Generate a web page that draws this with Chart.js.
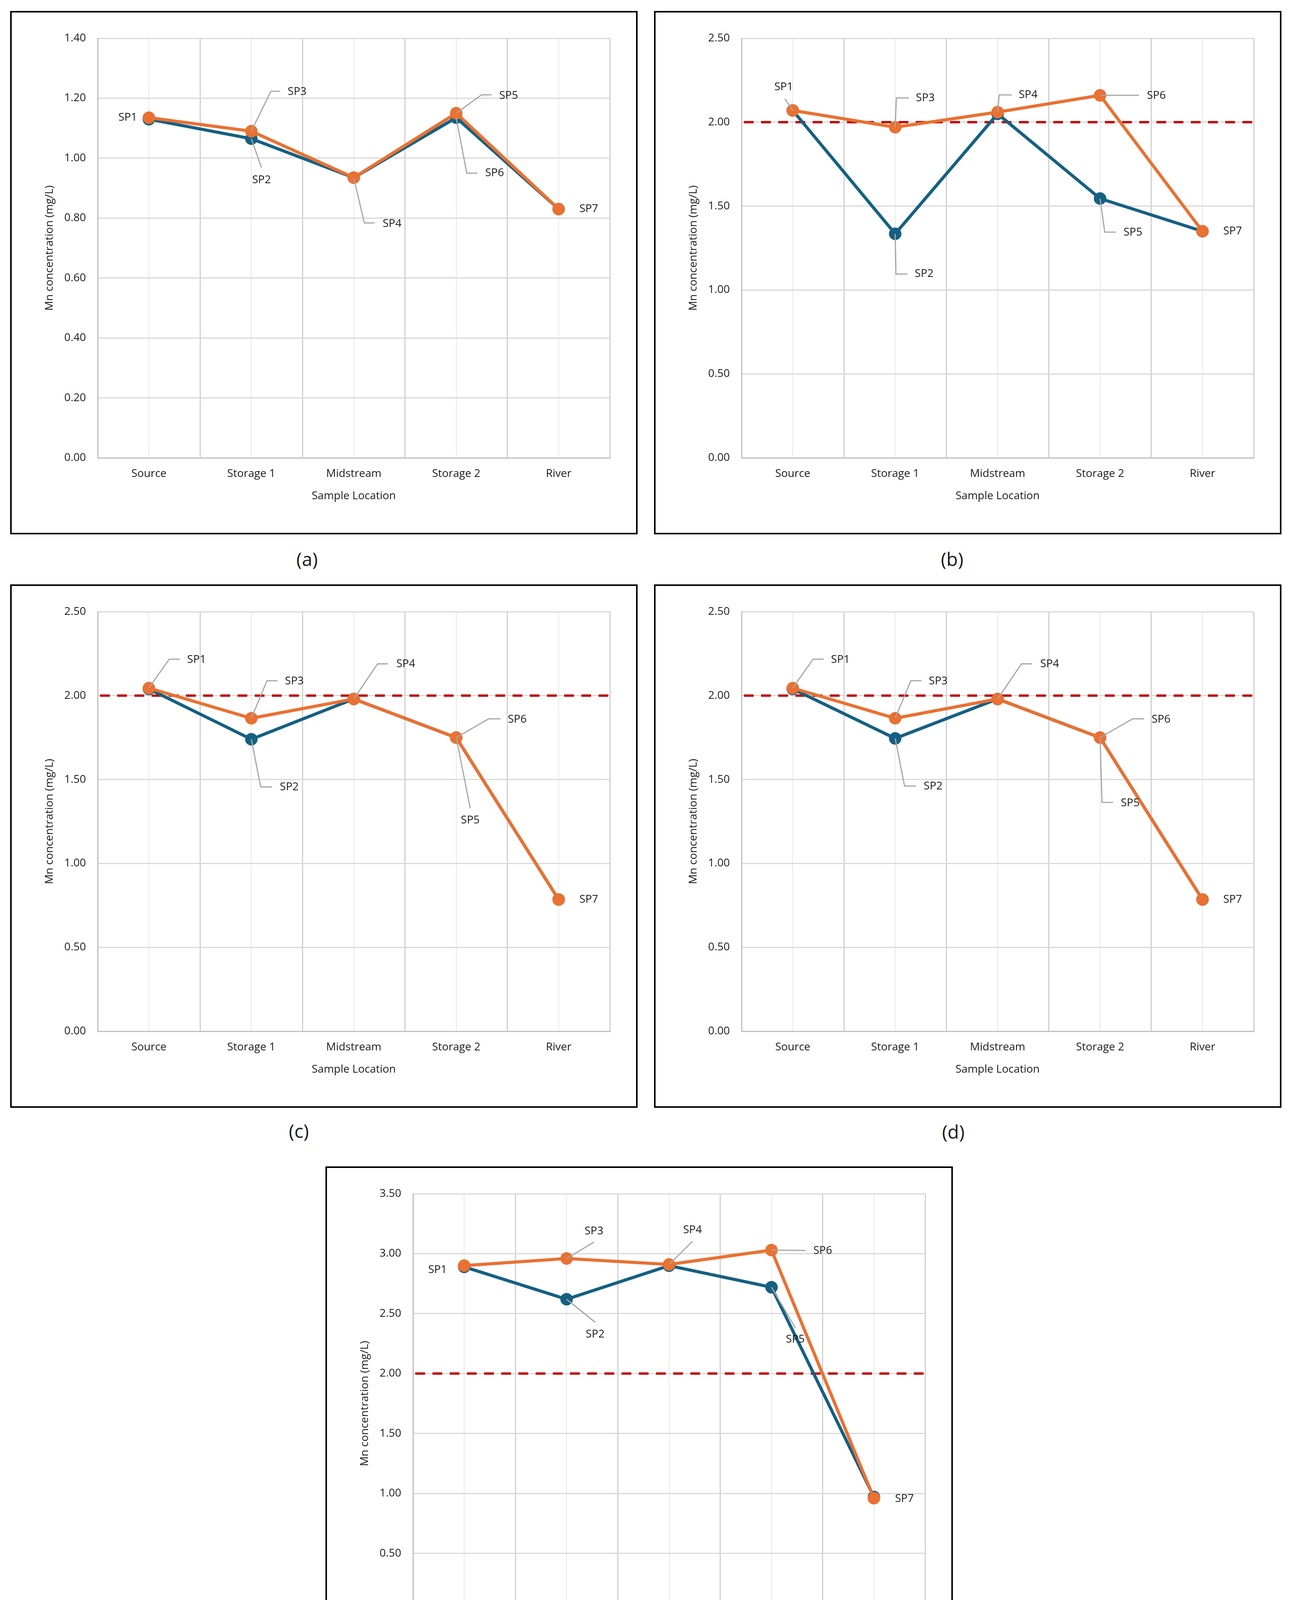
<!DOCTYPE html>
<html lang="en">
<head>
<meta charset="UTF-8">
<title>Mn concentration by sample location</title>
<style>
  body { margin: 0; background: #fff; width: 3307px; height: 4686px; position: relative; font-family: "Open Sans", sans-serif; color: #1a1a1a; }
  .panel { position: absolute; width: 1606px; height: 1340px; border: 4px solid #000; box-sizing: border-box; background: #fff; }
  .panel canvas { display: block; }
  .cap { position: absolute; font-size: 48px; line-height: 1; transform: translate(-50%, -50%); }
  .leg { position: absolute; line-height: 1; transform: translateY(-50%); }
  .key { position: absolute; height: 8px; width: 128px; border-radius: 4px; transform: translateY(-50%); }
  .key::after { content: ""; position: absolute; left: 48px; top: -12px; width: 32px; height: 32px; border-radius: 50%; background: inherit; }
  .dash { position: absolute; width: 151px; height: 7px; transform: translateY(-50%);
          background: repeating-linear-gradient(to right, #C00000 0 26px, transparent 26px 43px); }
</style>
</head>
<body>
  <div class="panel" style="left:26px; top:28px;"><canvas id="chartA" width="1598" height="1332"></canvas></div>
  <div class="panel" style="left:1674px; top:28px;"><canvas id="chartB" width="1598" height="1332"></canvas></div>
  <div class="panel" style="left:26px; top:1496px;"><canvas id="chartC" width="1598" height="1332"></canvas></div>
  <div class="panel" style="left:1674px; top:1496px;"><canvas id="chartD" width="1598" height="1332"></canvas></div>
  <div class="panel" style="left:833px; top:2986px;"><canvas id="chartE" width="1598" height="1332"></canvas></div>

  <div class="cap" style="left:786px; top:1431px;">(a)</div>
  <div class="cap" style="left:2437px; top:1431px;">(b)</div>
  <div class="cap" style="left:765px; top:2895px;">(c)</div>
  <div class="cap" style="left:2440px; top:2897px;">(d)</div>
  <div class="cap" style="left:1592px; top:4390px;">(e)</div>

  <div class="key" style="left:1110px; top:4522px; background:#156082;"></div>
  <div class="leg" style="left:1300px; top:4522px; font-size:52px;">CMPB Stream</div>
  <div class="key" style="left:1705px; top:4522px; background:#E97132;"></div>
  <div class="leg" style="left:1868px; top:4522px; font-size:52px;">LLB Stream</div>
  <div class="dash" style="left:1497px; top:4645px;"></div>
  <div class="leg" style="left:1676px; top:4645px; font-size:46px;">Effluent Standard</div>

  <script src="https://cdn.jsdelivr.net/npm/chart.js@4.4.1/dist/chart.umd.min.js"></script>
  <script>
    // values (mg/L)
    const locations = ['Source', 'Storage 1', 'Midstream', 'Storage 2', 'River'];
    const spNames = ['SP1', 'SP2', 'SP3', 'SP4', 'SP5', 'SP6', 'SP7'];

    const cmpbA = [1.13, 1.065, 0.935, 1.135, 0.83];
    const llbA  = [1.135, 1.09, 0.935, 1.15, 0.83];
    const cmpbB = [2.07, 1.335, 2.05, 1.545, 1.35];
    const llbB  = [2.07, 1.97, 2.06, 2.16, 1.35];
    const cmpbC = [2.04, 1.74, 1.98, 1.75, 0.785];
    const llbC  = [2.045, 1.865, 1.98, 1.75, 0.785];
    const cmpbD = [2.04, 1.745, 1.98, 1.75, 0.785];
    const llbD  = [2.045, 1.865, 1.98, 1.75, 0.785];
    const cmpbE = [2.89, 2.62, 2.90, 2.72, 0.97];
    const llbE  = [2.90, 2.96, 2.91, 3.03, 0.96];

    const effluentStandard = 2.0;

    const BLUE = '#156082', ORANGE = '#E97132', RED = '#C00000';
    const TXT = '#1a1a1a', FONT = '"Open Sans", sans-serif';

    // data label placement (px offsets from the point), ds 0 = CMPB, 1 = LLB
    const labelsA = [
      {sp: 0, ds: 1, i: 0, dx: -30, dy: 0, align: 'right'},
      {sp: 1, ds: 0, i: 1, dx: 26, dy: 106, align: 'center', lead: [[26, 74]]},
      {sp: 2, ds: 1, i: 1, dx: 93, dy: -101, lead: [[50, -102], [74, -102]]},
      {sp: 3, ds: 1, i: 2, dx: 74, dy: 118, lead: [[27, 116], [53, 116]]},
      {sp: 4, ds: 1, i: 3, dx: 110, dy: -45, lead: [[65, -47], [91, -47]]},
      {sp: 5, ds: 0, i: 3, dx: 74, dy: 142, lead: [[27, 142], [54, 142]]},
      {sp: 6, ds: 1, i: 4, dx: 53, dy: 0}
    ];
    const labelsB = [
      {sp: 0, ds: 1, i: 0, dx: -23, dy: -60, align: 'center', lead: [[-20, -30]]},
      {sp: 1, ds: 0, i: 1, dx: 50, dy: 103, lead: [[2, 103], [31, 103]]},
      {sp: 2, ds: 1, i: 1, dx: 53, dy: -75, lead: [[3, -75], [35, -75]]},
      {sp: 3, ds: 1, i: 2, dx: 54, dy: -44, lead: [[4, -44], [36, -44]]},
      {sp: 4, ds: 0, i: 3, dx: 60, dy: 87, lead: [[12, 86], [40, 86]]},
      {sp: 5, ds: 1, i: 3, dx: 120, dy: 1, lead: [[100, 0]]},
      {sp: 6, ds: 1, i: 4, dx: 53, dy: 0}
    ];
    const labelsC = [
      {sp: 0, ds: 1, i: 0, dx: 98, dy: -72, lead: [[52, -74], [79, -74]]},
      {sp: 1, ds: 0, i: 1, dx: 73, dy: 123, lead: [[24, 122], [53, 122]]},
      {sp: 2, ds: 1, i: 1, dx: 86, dy: -95, lead: [[40, -96], [67, -96]]},
      {sp: 3, ds: 1, i: 2, dx: 109, dy: -89, lead: [[61, -90], [88, -90]]},
      {sp: 4, ds: 0, i: 3, dx: 36, dy: 212, align: 'center', lead: [[36, 181]]},
      {sp: 5, ds: 1, i: 3, dx: 132, dy: -46, lead: [[83, -48], [113, -48]]},
      {sp: 6, ds: 1, i: 4, dx: 53, dy: 0}
    ];
    const labelsD = labelsC.map(l => l.sp === 4
      ? {sp: 4, ds: 0, i: 3, dx: 53, dy: 168, lead: [[5, 166], [33, 166]]} : l);
    const labelsE = [
      {sp: 0, ds: 1, i: 0, dx: -44, dy: 11, align: 'right'},
      {sp: 1, ds: 0, i: 1, dx: 73, dy: 90, align: 'center', lead: [[73, 59]]},
      {sp: 2, ds: 1, i: 1, dx: 70, dy: -70, align: 'center', lead: [[70, -42]]},
      {sp: 3, ds: 1, i: 2, dx: 60, dy: -88, align: 'center', lead: [[60, -59]]},
      {sp: 4, ds: 0, i: 3, dx: 61, dy: 134, align: 'center', lead: [[61, 104]]},
      {sp: 5, ds: 1, i: 3, dx: 107, dy: 2, lead: [[88, 1]]},
      {sp: 6, ds: 1, i: 4, dx: 54, dy: 2}
    ];

    // effluent standard line under the series, SP labels on top
    const annotate = {
      id: 'annotate',
      beforeDatasetsDraw(chart, args, opts) {
        if (!opts.standard) return;
        const {ctx, chartArea: a, scales: {y}} = chart;
        const py = y.getPixelForValue(effluentStandard);
        ctx.save();
        ctx.strokeStyle = RED;
        ctx.lineWidth = 6;
        ctx.setLineDash([25, 19]);
        ctx.beginPath();
        ctx.moveTo(a.left + 6, py);
        ctx.lineTo(a.right, py);
        ctx.stroke();
        ctx.restore();
      },
      afterDatasetsDraw(chart, args, opts) {
        const ctx = chart.ctx;
        ctx.save();
        (opts.labels || []).forEach(l => {
          const pt = chart.getDatasetMeta(l.ds).data[l.i];
          const x = pt.x, y = pt.y;
          if (l.lead) {
            ctx.strokeStyle = '#a6a6a6';
            ctx.lineWidth = 3;
            ctx.beginPath();
            ctx.moveTo(x, y);
            l.lead.forEach(p => ctx.lineTo(x + p[0], y + p[1]));
            ctx.stroke();
          }
          ctx.fillStyle = TXT;
          ctx.font = '28px ' + FONT;
          ctx.textAlign = l.align || 'left';
          ctx.textBaseline = 'middle';
          ctx.fillText(spNames[l.sp], x + l.dx, y + l.dy);
        });
        ctx.restore();
      }
    };

    function makeChart(id, cmpb, llb, yMax, yStep, standard, labels) {
      const ctx = document.getElementById(id).getContext('2d');
      return new Chart(ctx, {
        type: 'line',
        data: {
          labels: locations,
          datasets: [
            {label: 'CMPB Stream', data: cmpb, borderColor: BLUE, backgroundColor: BLUE,
             borderWidth: 8, pointRadius: 16, pointBorderWidth: 0, pointHoverRadius: 16, order: 1},
            {label: 'LLB Stream', data: llb, borderColor: ORANGE, backgroundColor: ORANGE,
             borderWidth: 8, pointRadius: 16, pointBorderWidth: 0, pointHoverRadius: 16, order: 0}
          ]
        },
        options: {
          responsive: false,
          devicePixelRatio: 1,
          animation: false,
          layout: {padding: {top: 66, right: 67, bottom: 0, left: 0}},
          plugins: {
            legend: {display: false},
            tooltip: {enabled: false},
            annotate: {standard: standard, labels: labels}
          },
          scales: {
            x: {
              offset: true,
              grid: {offset: true, color: '#d0d0d0', lineWidth: 3, drawTicks: false},
              border: {color: '#bfbfbf', width: 3},
              ticks: {padding: 24, color: TXT, font: {family: FONT, size: 28}},
              title: {display: true, text: 'Sample Location', color: TXT,
                      font: {family: FONT, size: 28}, padding: {top: 0, bottom: 77}},
              afterFit: s => { s.height = 192; }
            },
            x2: {
              type: 'category',
              position: 'bottom',
              offset: true,
              grid: {offset: false, color: '#e8e8e8', lineWidth: 2, drawTicks: false},
              border: {display: false},
              ticks: {display: false},
              afterFit: s => { s.height = 0; }
            },
            y: {
              min: 0,
              max: yMax,
              grid: {color: '#d9d9d9', lineWidth: 3, drawTicks: false},
              border: {color: '#bfbfbf', width: 3},
              ticks: {stepSize: yStep, padding: 30, color: TXT, font: {family: FONT, size: 28},
                      callback: v => v.toFixed(2)},
              title: {display: true, text: 'Mn concentration (mg/L)', color: TXT,
                      font: {family: FONT, size: 28}, padding: {top: 80, bottom: 0}},
              afterFit: s => { s.width = 220; }
            }
          }
        },
        plugins: [annotate]
      });
    }

    window.onload = function () {
      makeChart('chartA', cmpbA, llbA, 1.4, 0.2, false, labelsA);
      makeChart('chartB', cmpbB, llbB, 2.5, 0.5, true, labelsB);
      makeChart('chartC', cmpbC, llbC, 2.5, 0.5, true, labelsC);
      makeChart('chartD', cmpbD, llbD, 2.5, 0.5, true, labelsD);
      makeChart('chartE', cmpbE, llbE, 3.5, 0.5, true, labelsE);
    };
  </script>
</body>
</html>
